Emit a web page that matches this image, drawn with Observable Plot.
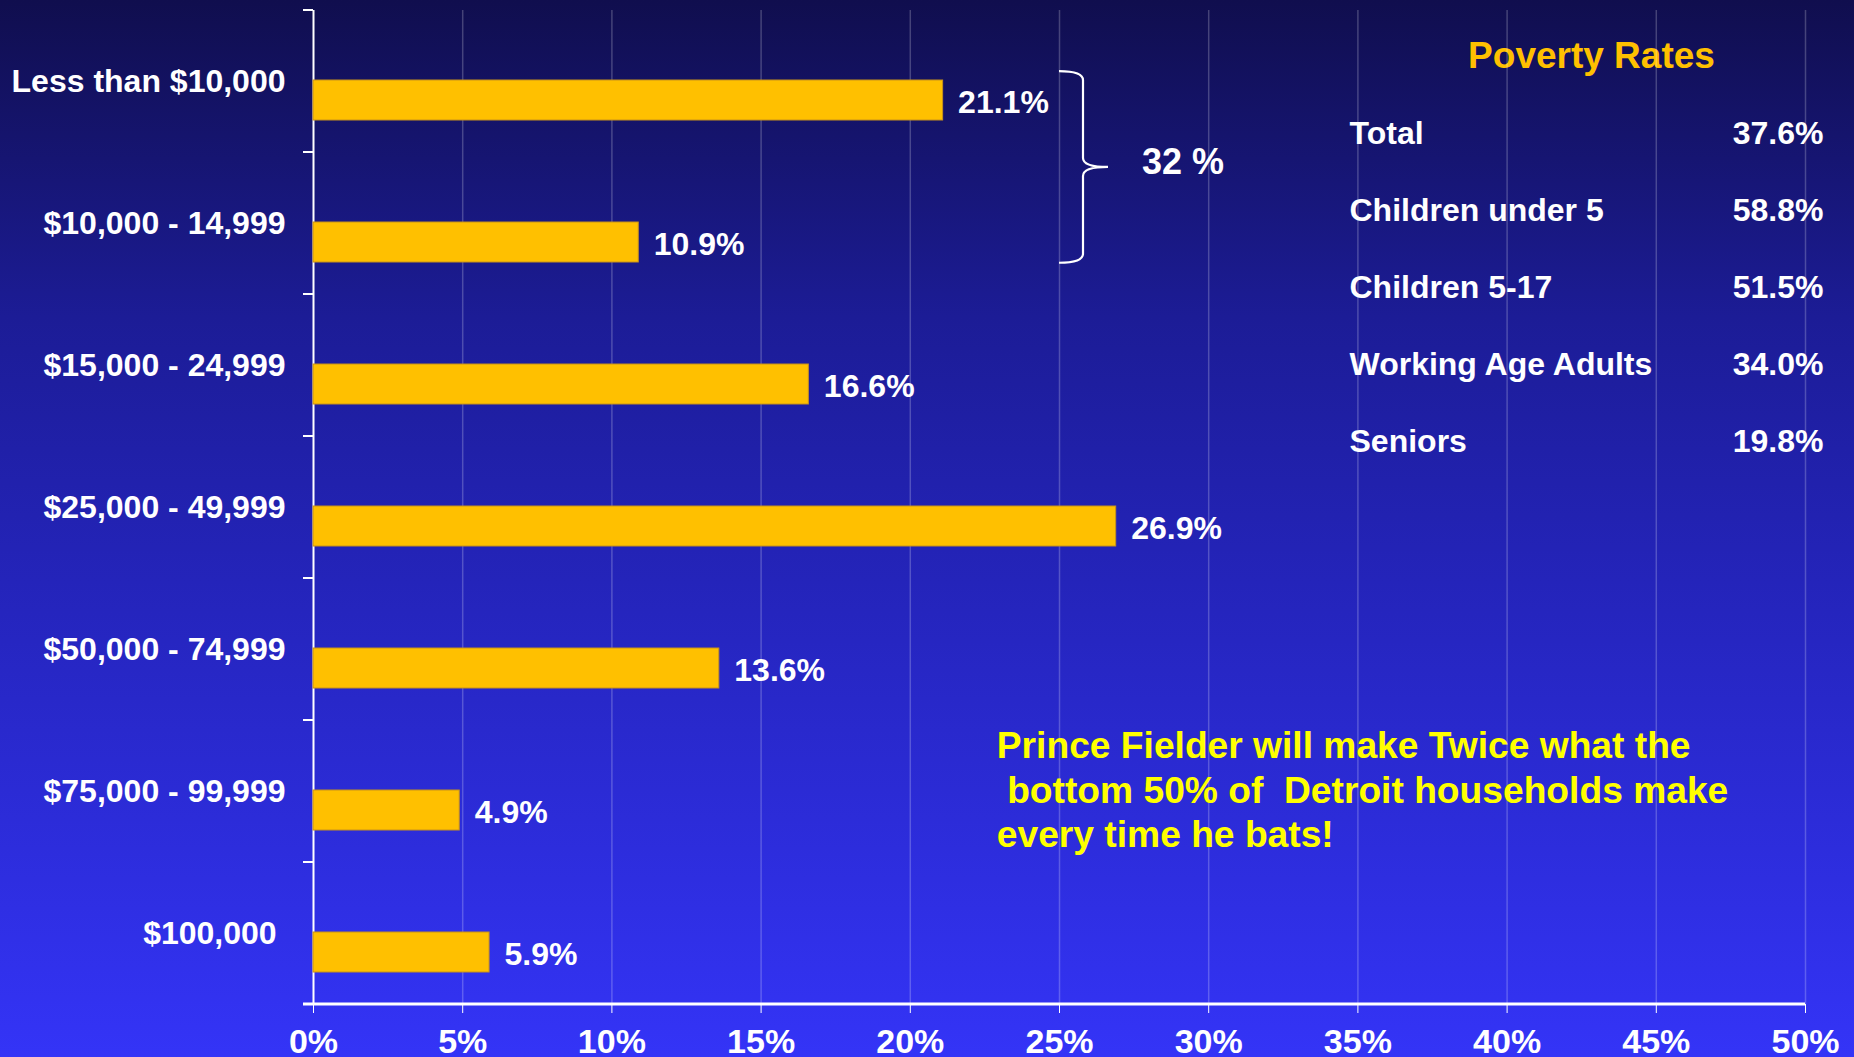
<!DOCTYPE html>
<html>
<head>
<meta charset="utf-8">
<script src="https://cdn.jsdelivr.net/npm/d3@7"></script>
<script src="https://cdn.jsdelivr.net/npm/@observablehq/plot@0.6"></script>
<style>
  html, body { margin: 0; padding: 0; overflow: hidden; }
  body { width: 1854px; height: 1057px;
    background: linear-gradient(to bottom, #100e4e 0%, #1c1c96 30%, #2424ba 55%, #3434f7 100%); }
  #wrap { position: relative; width: 1854px; height: 1057px; }
  #wrap > svg { position: absolute; left: 0; top: 0; }
  #table { position: absolute; left: 1349px; top: 0; }
  svg text { white-space: pre; }
</style>
</head>
<body>
<div id="wrap"><div id="table"></div></div>
<script>
// ---- data ----
const categories = ["Less than $10,000", "$10,000 - 14,999", "$15,000 - 24,999", "$25,000 - 49,999",
                    "$50,000 - 74,999", "$75,000 - 99,999", "$100,000 "];
const shares = [21.1, 10.9, 16.6, 26.9, 13.6, 4.9, 5.9];
const xTicks = [0, 5, 10, 15, 20, 25, 30, 35, 40, 45, 50];
const gridTicks = [5, 10, 15, 20, 25, 30, 35, 40, 45, 50];
const braceCategories = ["Less than $10,000", "$10,000 - 14,999"];
const braceLabel = "32 %";
const braceAt = 25;
const povertyTitle = "Poverty Rates";
const povertyGroups = ["Total", "Children under 5", "Children 5-17", "Working Age Adults", "Seniors"];
const povertyRates = [37.6, 58.8, 51.5, 34.0, 19.8];
const noteLines = ["Prince Fielder will make Twice what the", " bottom 50% of  Detroit households make", "every time he bats!"];
const noteX = 23;
const noteCategory = "$75,000 - 99,999";

// ---- build ----
const FONT = "'Liberation Sans', Arial, Helvetica, sans-serif";
const nb = s => s.replace(/ /g, "\u00A0");
const data = categories.map((c, i) => ({category: c, value: shares[i]}));
const rows = povertyGroups.map((g, i) => ({label: g, value: povertyRates[i]}));

const plot = Plot.plot({
  width: 1854, height: 1057,
  marginTop: 10, marginBottom: 53, marginLeft: 313, marginRight: 49,
  style: {background: "transparent", color: "white", fontFamily: FONT, fontSize: "34px", fontWeight: "bold", overflow: "visible"},
  x: {domain: [0, 50], ticks: xTicks, tickFormat: d => d + "%", tickSize: 9, tickPadding: 15, label: null},
  y: {domain: categories, padding: 0, axis: null, label: null},
  marks: [
    Plot.ruleX(gridTicks, {x: d => d, stroke: "white", strokeOpacity: 0.22, strokeWidth: 1.5}),
    Plot.ruleX([0], {x: d => d, stroke: "white", strokeWidth: 2}),
    Plot.barX(data, {x: "value", y: "category", fill: "#FFC000", stroke: "#c8921a", strokeWidth: 1, insetTop: 70, insetBottom: 32}),
    Plot.text(data, {x: "value", y: "category", text: d => d.value.toFixed(1) + "%", dx: 15, dy: 21,
      textAnchor: "start", fill: "white", fontSize: 32, fontWeight: "bold"}),
    Plot.text(categories, {y: d => d, text: d => nb(d), frameAnchor: "left", textAnchor: "end", dx: -28,
      fill: "white", fontSize: 32, fontWeight: "bold"}),
    Plot.text([noteLines.join("\n")], {x: () => noteX, y: () => noteCategory, text: d => nb(d),
      textAnchor: "start", lineHeight: 1.2, dx: -3, dy: -3, fill: "#FFFF00", fontSize: 37.2, fontWeight: "bold"})
  ]
});
document.getElementById("wrap").appendChild(plot);

// brace, axis line and y boundary ticks drawn from the plot's own scales
const xs = plot.scale("x"), ys = plot.scale("y");
const X = xs.apply ? v => xs.apply(v) : d3.scaleLinear(xs.domain, xs.range);
const bw = ys.bandwidth ?? ((ys.range[1] - ys.range[0]) / ys.domain.length);
const Yb = ys.apply ? v => ys.apply(v) : d3.scaleBand(ys.domain, ys.range);
const svg = d3.select(plot);
const g = svg.append("g").attr("stroke", "white").attr("fill", "none");
const bounds = categories.map(c => Yb(c)).concat([Yb(categories[categories.length - 1]) + bw]);
bounds.forEach(b => g.append("line").attr("x1", X(0) - 10).attr("x2", X(0)).attr("y1", b).attr("y2", b).attr("stroke-width", 2));
const yBottom = bounds[bounds.length - 1];
g.append("line").attr("x1", X(0) - 10).attr("x2", X(50)).attr("y1", yBottom).attr("y2", yBottom).attr("stroke-width", 3);

const y1 = Yb(braceCategories[0]) + bw * 0.43;
const y2 = Yb(braceCategories[1]) + bw * 0.78;
const ym = (y1 + y2) / 2;
const x0 = X(braceAt), xm = x0 + 24, xt = x0 + 49, r = 9;
g.append("path").attr("stroke-width", 2.2).attr("d",
  `M${x0},${y1} Q${xm},${y1} ${xm},${y1 + r} L${xm},${ym - r} Q${xm},${ym} ${xt},${ym} ` +
  `Q${xm},${ym} ${xm},${ym + r} L${xm},${y2 - r} Q${xm},${y2} ${x0},${y2}`);
svg.append("text").attr("x", x0 + 83).attr("y", ym - 6).attr("dy", "0.36em").attr("text-anchor", "start")
  .attr("fill", "white").attr("font-size", 36).attr("font-weight", "bold").attr("font-family", FONT)
  .text(nb(braceLabel));

// poverty rates table
const table = Plot.plot({
  width: 474, height: 480,
  marginTop: 54, marginBottom: 38, marginLeft: 0, marginRight: 0,
  style: {background: "transparent", color: "white", fontFamily: FONT, fontWeight: "bold", overflow: "visible"},
  y: {type: "point", domain: [povertyTitle, ...povertyGroups], padding: 0, axis: null},
  marks: [
    Plot.text([povertyTitle], {y: d => d, text: d => d, frameAnchor: "middle", dx: 5, dy: 0, fill: "#FFC000", fontSize: 37, fontWeight: "bold"}),
    Plot.text(rows, {y: "label", text: "label", frameAnchor: "left", textAnchor: "start", fill: "white", fontSize: 32, fontWeight: "bold"}),
    Plot.text(rows, {y: "label", text: d => d.value.toFixed(1) + "%", frameAnchor: "right", textAnchor: "end", fill: "white", fontSize: 32, fontWeight: "bold"})
  ]
});
document.getElementById("table").appendChild(table);
</script>
</body>
</html>
